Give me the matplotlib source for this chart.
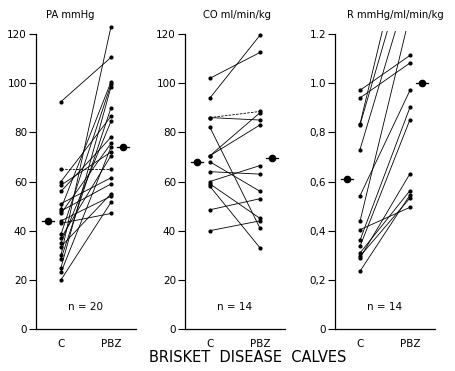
import matplotlib
matplotlib.use("Agg")
import matplotlib.pyplot as plt
import numpy as np

# ---------------- data ----------------
groups = ["C", "PBZ"]

pa_c   = [92.5, 65, 60, 58.5, 56, 51, 49, 48, 47, 44, 43, 38.5, 37, 35, 33.5, 30, 28.5, 25, 23, 20]
pa_pbz = [110.5, 65, 86.5, 72, 78, 61.5, 100.5, 59, 75.5, 54, 47, 99.5, 70.5, 84.5, 55, 123, 90, 98.5, 74, 51.5]
pa_dashed = [1]
pa_mean = [44, 74]

co_c   = [102, 94, 86, 86, 82, 70.5, 70.5, 68, 64, 60, 59, 58, 48.5, 40]
co_pbz = [112.5, 119.5, 88.5, 85, 41, 88, 83, 56, 63, 66.5, 45, 33, 53, 44]
co_dashed = [2]
co_mean = [68, 69.5]

r_c   = [0.971, 0.94, 0.834, 0.83, 0.73, 0.542, 0.438, 0.404, 0.361, 0.336, 0.309, 0.296, 0.289, 0.235]
r_pbz = [1.113, 1.082, 1.68, 1.53, 1.41, 0.971, 1.28, 0.495, 0.902, 0.852, 0.563, 0.533, 0.632, 0.545]
r_dashed = []
r_mean = [0.61, 1.0]

titles = ["PA mmHg", "CO ml/min/kg", "R mmHg/ml/min/kg"]
n_labels = ["n = 20", "n = 14", "n = 14"]
pa_ticks = [0, 20, 40, 60, 80, 100, 120]
co_ticks = [0, 20, 40, 60, 80, 100, 120]
r_ticks = [0, 0.2, 0.4, 0.6, 0.8, 1.0, 1.2]
r_ticklabels = ["0", "0,2", "0,4", "0,6", "0,8", "1.0", "1.2"]
xlabel = "BRISKET  DISEASE  CALVES"

# ---------------- layout ----------------
W, H = 456, 371
fig = plt.figure(figsize=(W / 100, H / 100), dpi=100)
plt.rcParams['font.family'] = ['DejaVu Sans']

px_per_top = 295.0          # pixels from 0 to top tick
bottom_px = 329.0
axis_left_px = [36, 185, 335]
axis_w_px = 100

panels = [
    (pa_c, pa_pbz, pa_dashed, pa_mean, 120, 125, pa_ticks, [str(t) for t in pa_ticks]),
    (co_c, co_pbz, co_dashed, co_mean, 120, 125, co_ticks, [str(t) for t in co_ticks]),
    (r_c, r_pbz, r_dashed, r_mean, 1.2, 1.212, r_ticks, r_ticklabels),
]

for i, (cv, pv, dashed, mean, ytop, ylim_top, ticks, ticklabels) in enumerate(panels):
    scale = px_per_top / ytop
    h_px = ylim_top * scale
    ax = fig.add_axes([axis_left_px[i] / W, (H - bottom_px) / H, axis_w_px / W, h_px / H])
    ax.set_xlim(-0.5, 1.5)
    ax.set_ylim(0, ylim_top)
    for j, (a, b) in enumerate(zip(cv, pv)):
        ls = (0, (3, 1.5)) if j in dashed else '-'
        ax.plot([0, 1], [a, b], color='black', lw=0.6, ls=ls,
                marker='o', ms=2.0, mfc='black', mec='black')
    # means
    for xm, m in zip([-0.25, 1.25], mean):
        ax.plot([xm - 0.12, xm + 0.12], [m, m], color='black', lw=0.9)
        ax.plot([xm], [m], marker='o', ms=4.5, color='black')
    for s in ['top', 'right']:
        ax.spines[s].set_visible(False)
    ax.spines['left'].set_bounds(0, ytop)
    ax.spines['left'].set_linewidth(0.9)
    ax.spines['bottom'].set_linewidth(0.9)
    ax.set_yticks(ticks)
    ax.set_yticklabels(ticklabels)
    ax.set_xticks([0, 1])
    ax.set_xticklabels(groups)
    ax.tick_params(axis='y', direction='out', length=5, width=0.8, labelsize=7.5, pad=1.5)
    ax.tick_params(axis='x', length=0, labelsize=7.5, pad=7)
    ax.text(0.5, 0.076 * ytop / ylim_top, n_labels[i], transform=ax.transAxes,
            ha='center', va='center', fontsize=7.5)
    ax.patch.set_visible(False)

# titles
title_x = [70, 237, 395]
for t, x in zip(titles, title_x):
    fig.text(x / W, 1 - 15 / H, t, ha='center', va='center', fontsize=7.2)

fig.text(248 / W, 1 - 357 / H, xlabel, ha='center', va='center', fontsize=10.5)

fig.savefig("out.png", dpi=100, facecolor='white')
